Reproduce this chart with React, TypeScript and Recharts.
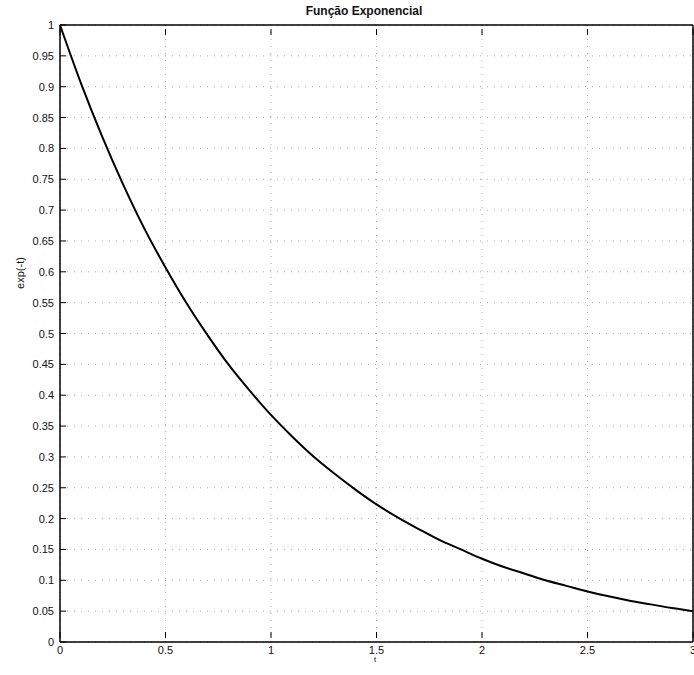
import { LineChart, Line, XAxis, YAxis, CartesianGrid } from "recharts";

// t readings and exp(-t) values
const tValues = [
  0, 0.1, 0.2, 0.3, 0.4, 0.5, 0.6, 0.7, 0.8, 0.9, 1, 1.1, 1.2, 1.3, 1.4, 1.5,
  1.6, 1.7, 1.8, 1.9, 2, 2.1, 2.2, 2.3, 2.4, 2.5, 2.6, 2.7, 2.8, 2.9, 3,
];
const expValues = [
  1, 0.905, 0.819, 0.741, 0.67, 0.607, 0.549, 0.497, 0.449, 0.407, 0.368,
  0.333, 0.301, 0.273, 0.247, 0.223, 0.202, 0.183, 0.165, 0.15, 0.135, 0.122,
  0.111, 0.1, 0.091, 0.082, 0.074, 0.067, 0.061, 0.055, 0.05,
];
const xTicks = [0, 0.5, 1, 1.5, 2, 2.5, 3];
const yTicks = [
  0, 0.05, 0.1, 0.15, 0.2, 0.25, 0.3, 0.35, 0.4, 0.45, 0.5, 0.55, 0.6, 0.65,
  0.7, 0.75, 0.8, 0.85, 0.9, 0.95, 1,
];

const data = tValues.map((t, i) => ({ t, y: expValues[i] }));

const FONT = "'Liberation Sans', Arial, Helvetica, sans-serif";

function LeftTick({ x, y, payload }: any) {
  return (
    <g>
      <line x1={x + 6} x2={x + 12} y1={y} y2={y} stroke="#000" strokeWidth={1} />
      <text x={x} y={y} dy={4} textAnchor="end" fontSize={11} fill="#111" fontFamily={FONT}>
        {String(payload.value)}
      </text>
    </g>
  );
}

function RightTick({ x, y }: any) {
  return <line x1={x - 6} x2={x - 12} y1={y} y2={y} stroke="#000" strokeWidth={1} />;
}

function BottomTick({ x, y, payload }: any) {
  return (
    <g>
      <line x1={x} x2={x} y1={y - 6} y2={y - 12} stroke="#000" strokeWidth={1} />
      <text x={x} y={y} dy={10} textAnchor="middle" fontSize={11} fill="#111" fontFamily={FONT}>
        {String(payload.value)}
      </text>
    </g>
  );
}

function TopTick({ x, y }: any) {
  return <line x1={x} x2={x} y1={y + 6} y2={y + 12} stroke="#000" strokeWidth={1} />;
}

export default function App() {
  return (
    <div style={{ position: "absolute", left: 0, top: 0, width: 694, height: 675, background: "#fff" }}>
      <div
        style={{
          position: "absolute",
          left: 0,
          width: 728,
          top: 4,
          textAlign: "center",
          fontFamily: FONT,
          fontWeight: "bold",
          fontSize: 12,
          color: "#111",
        }}
      >
        Função Exponencial
      </div>
      <div
        style={{
          position: "absolute",
          left: 0,
          top: 267,
          width: 40,
          textAlign: "center",
          transform: "rotate(-90deg)",
          fontFamily: FONT,
          fontSize: 11,
          color: "#111",
        }}
      >
        exp(-t)
      </div>
      <div
        style={{
          position: "absolute",
          left: 370,
          top: 655,
          width: 10,
          textAlign: "center",
          fontFamily: FONT,
          fontSize: 8,
          color: "#111",
        }}
      >
        t
      </div>
      <LineChart
        width={694}
        height={675}
        data={data}
        margin={{ top: 24, right: 0, bottom: 32, left: 59 }}
      >
        <CartesianGrid stroke="#aaa" strokeDasharray="1 6" />
        <XAxis
          dataKey="t"
          type="number"
          domain={[0, 3]}
          ticks={xTicks}
          height={1}
          tickSize={0}
          tickLine={false}
          tick={<BottomTick />}
          axisLine={{ stroke: "#000", strokeWidth: 1.5 }}
          interval={0}
        />
        <XAxis
          xAxisId="top"
          dataKey="t"
          type="number"
          orientation="top"
          domain={[0, 3]}
          ticks={xTicks}
          height={1}
          tickSize={0}
          tickLine={false}
          tick={<TopTick />}
          axisLine={{ stroke: "#000", strokeWidth: 1.5 }}
          interval={0}
        />
        <YAxis
          type="number"
          domain={[0, 1]}
          ticks={yTicks}
          width={1}
          tickSize={0}
          tickMargin={6}
          tickLine={false}
          tick={<LeftTick />}
          axisLine={{ stroke: "#000", strokeWidth: 1.5 }}
          interval={0}
        />
        <YAxis
          yAxisId="right"
          orientation="right"
          type="number"
          domain={[0, 1]}
          ticks={yTicks}
          width={1}
          tickSize={0}
          tickLine={false}
          tick={<RightTick />}
          axisLine={{ stroke: "#000", strokeWidth: 1.5 }}
          interval={0}
        />
        <Line
          type="monotone"
          dataKey="y"
          stroke="#000"
          strokeWidth={2}
          dot={false}
          isAnimationActive={false}
        />
      </LineChart>
    </div>
  );
}
